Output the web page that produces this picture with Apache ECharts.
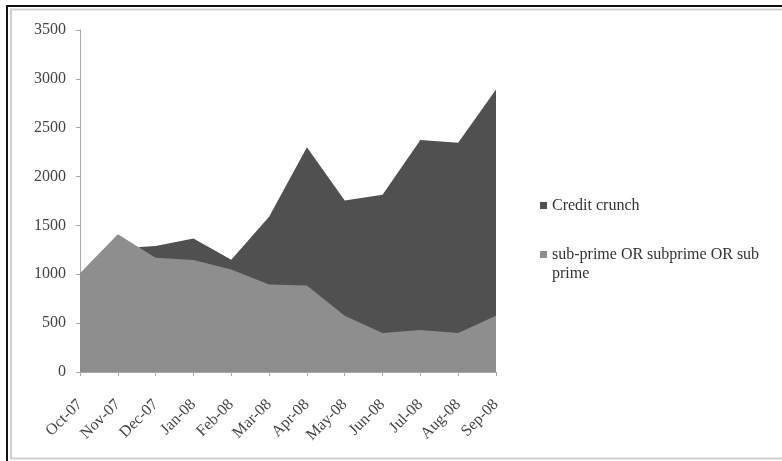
<!DOCTYPE html>
<html>
<head>
<meta charset="utf-8">
<script src="https://cdn.jsdelivr.net/npm/echarts@6/dist/echarts.min.js"></script>
<style>
html,body{margin:0;padding:0;background:#fff;}
#chart{width:782px;height:461px;}
</style>
</head>
<body>
<div id="chart"></div>
<script>
var categories = ['Oct-07','Nov-07','Dec-07','Jan-08','Feb-08','Mar-08','Apr-08','May-08','Jun-08','Jul-08','Aug-08','Sep-08'];
var creditCrunch = [850, 1265, 1290, 1365, 1150, 1590, 2300, 1755, 1815, 2375, 2345, 2890];
var subprime = [1010, 1410, 1170, 1145, 1050, 895, 885, 575, 400, 430, 400, 575];
var yTicks = [0, 500, 1000, 1500, 2000, 2500, 3000, 3500];
var seriesNames = ['Credit crunch', 'sub-prime OR subprime OR sub prime'];

var FONT = '"Liberation Serif", "Times New Roman", serif';
var chart = echarts.init(document.getElementById('chart'));
chart.setOption({
  animation: false,
  backgroundColor: '#ffffff',
  graphic: [
    {type: 'rect', shape: {x: 7, y: 6, width: 800, height: 500}, style: {fill: 'none', stroke: '#111', lineWidth: 2}, silent: true},
    {type: 'rect', shape: {x: 11, y: 9.5, width: 800, height: 449}, style: {fill: 'none', stroke: '#cfcfcf', lineWidth: 2}, silent: true}
  ],
  grid: {left: 80, right: 286, top: 30, bottom: 89, containLabel: false},
  legend: [
    {
      data: [seriesNames[0]],
      left: 540, top: 197, padding: 0,
      itemWidth: 7, itemHeight: 7, itemGap: 0,
      icon: 'rect',
      textStyle: {fontFamily: FONT, fontSize: 16, color: '#333', lineHeight: 17}
    },
    {
      data: [seriesNames[1]],
      left: 540, top: 226, padding: 0,
      itemWidth: 7, itemHeight: 7, itemGap: 0,
      icon: 'rect',
      formatter: function () { return '\nsub-prime OR subprime OR sub\nprime'; },
      textStyle: {fontFamily: FONT, fontSize: 16, color: '#333', lineHeight: 19}
    }
  ],
  xAxis: {
    type: 'category',
    data: categories,
    boundaryGap: false,
    axisLine: {lineStyle: {color: '#a8a8a8', width: 1}},
    axisTick: {show: true, length: 4, lineStyle: {color: '#a8a8a8'}},
    axisLabel: {rotate: 45, margin: 30, interval: 0, fontFamily: FONT, fontSize: 16, color: '#444'},
    splitLine: {show: false}
  },
  yAxis: {
    type: 'value',
    min: yTicks[0], max: yTicks[yTicks.length - 1], interval: 500,
    axisLine: {show: true, lineStyle: {color: '#a8a8a8', width: 1}},
    axisTick: {show: true, length: 4, lineStyle: {color: '#a8a8a8'}},
    axisLabel: {margin: 14, fontFamily: FONT, fontSize: 16, color: '#444', formatter: function (v) { return String(v); }},
    splitLine: {show: false}
  },
  series: [
    {
      name: seriesNames[0], type: 'line', data: creditCrunch,
      symbol: 'none', lineStyle: {width: 0},
      itemStyle: {color: '#505050'},
      areaStyle: {color: '#505050', opacity: 1},
      z: 2
    },
    {
      name: seriesNames[1], type: 'line', data: subprime,
      symbol: 'none', lineStyle: {width: 0},
      itemStyle: {color: '#8e8e8e'},
      areaStyle: {color: '#8e8e8e', opacity: 1},
      z: 3
    }
  ]
});
</script>
</body>
</html>
